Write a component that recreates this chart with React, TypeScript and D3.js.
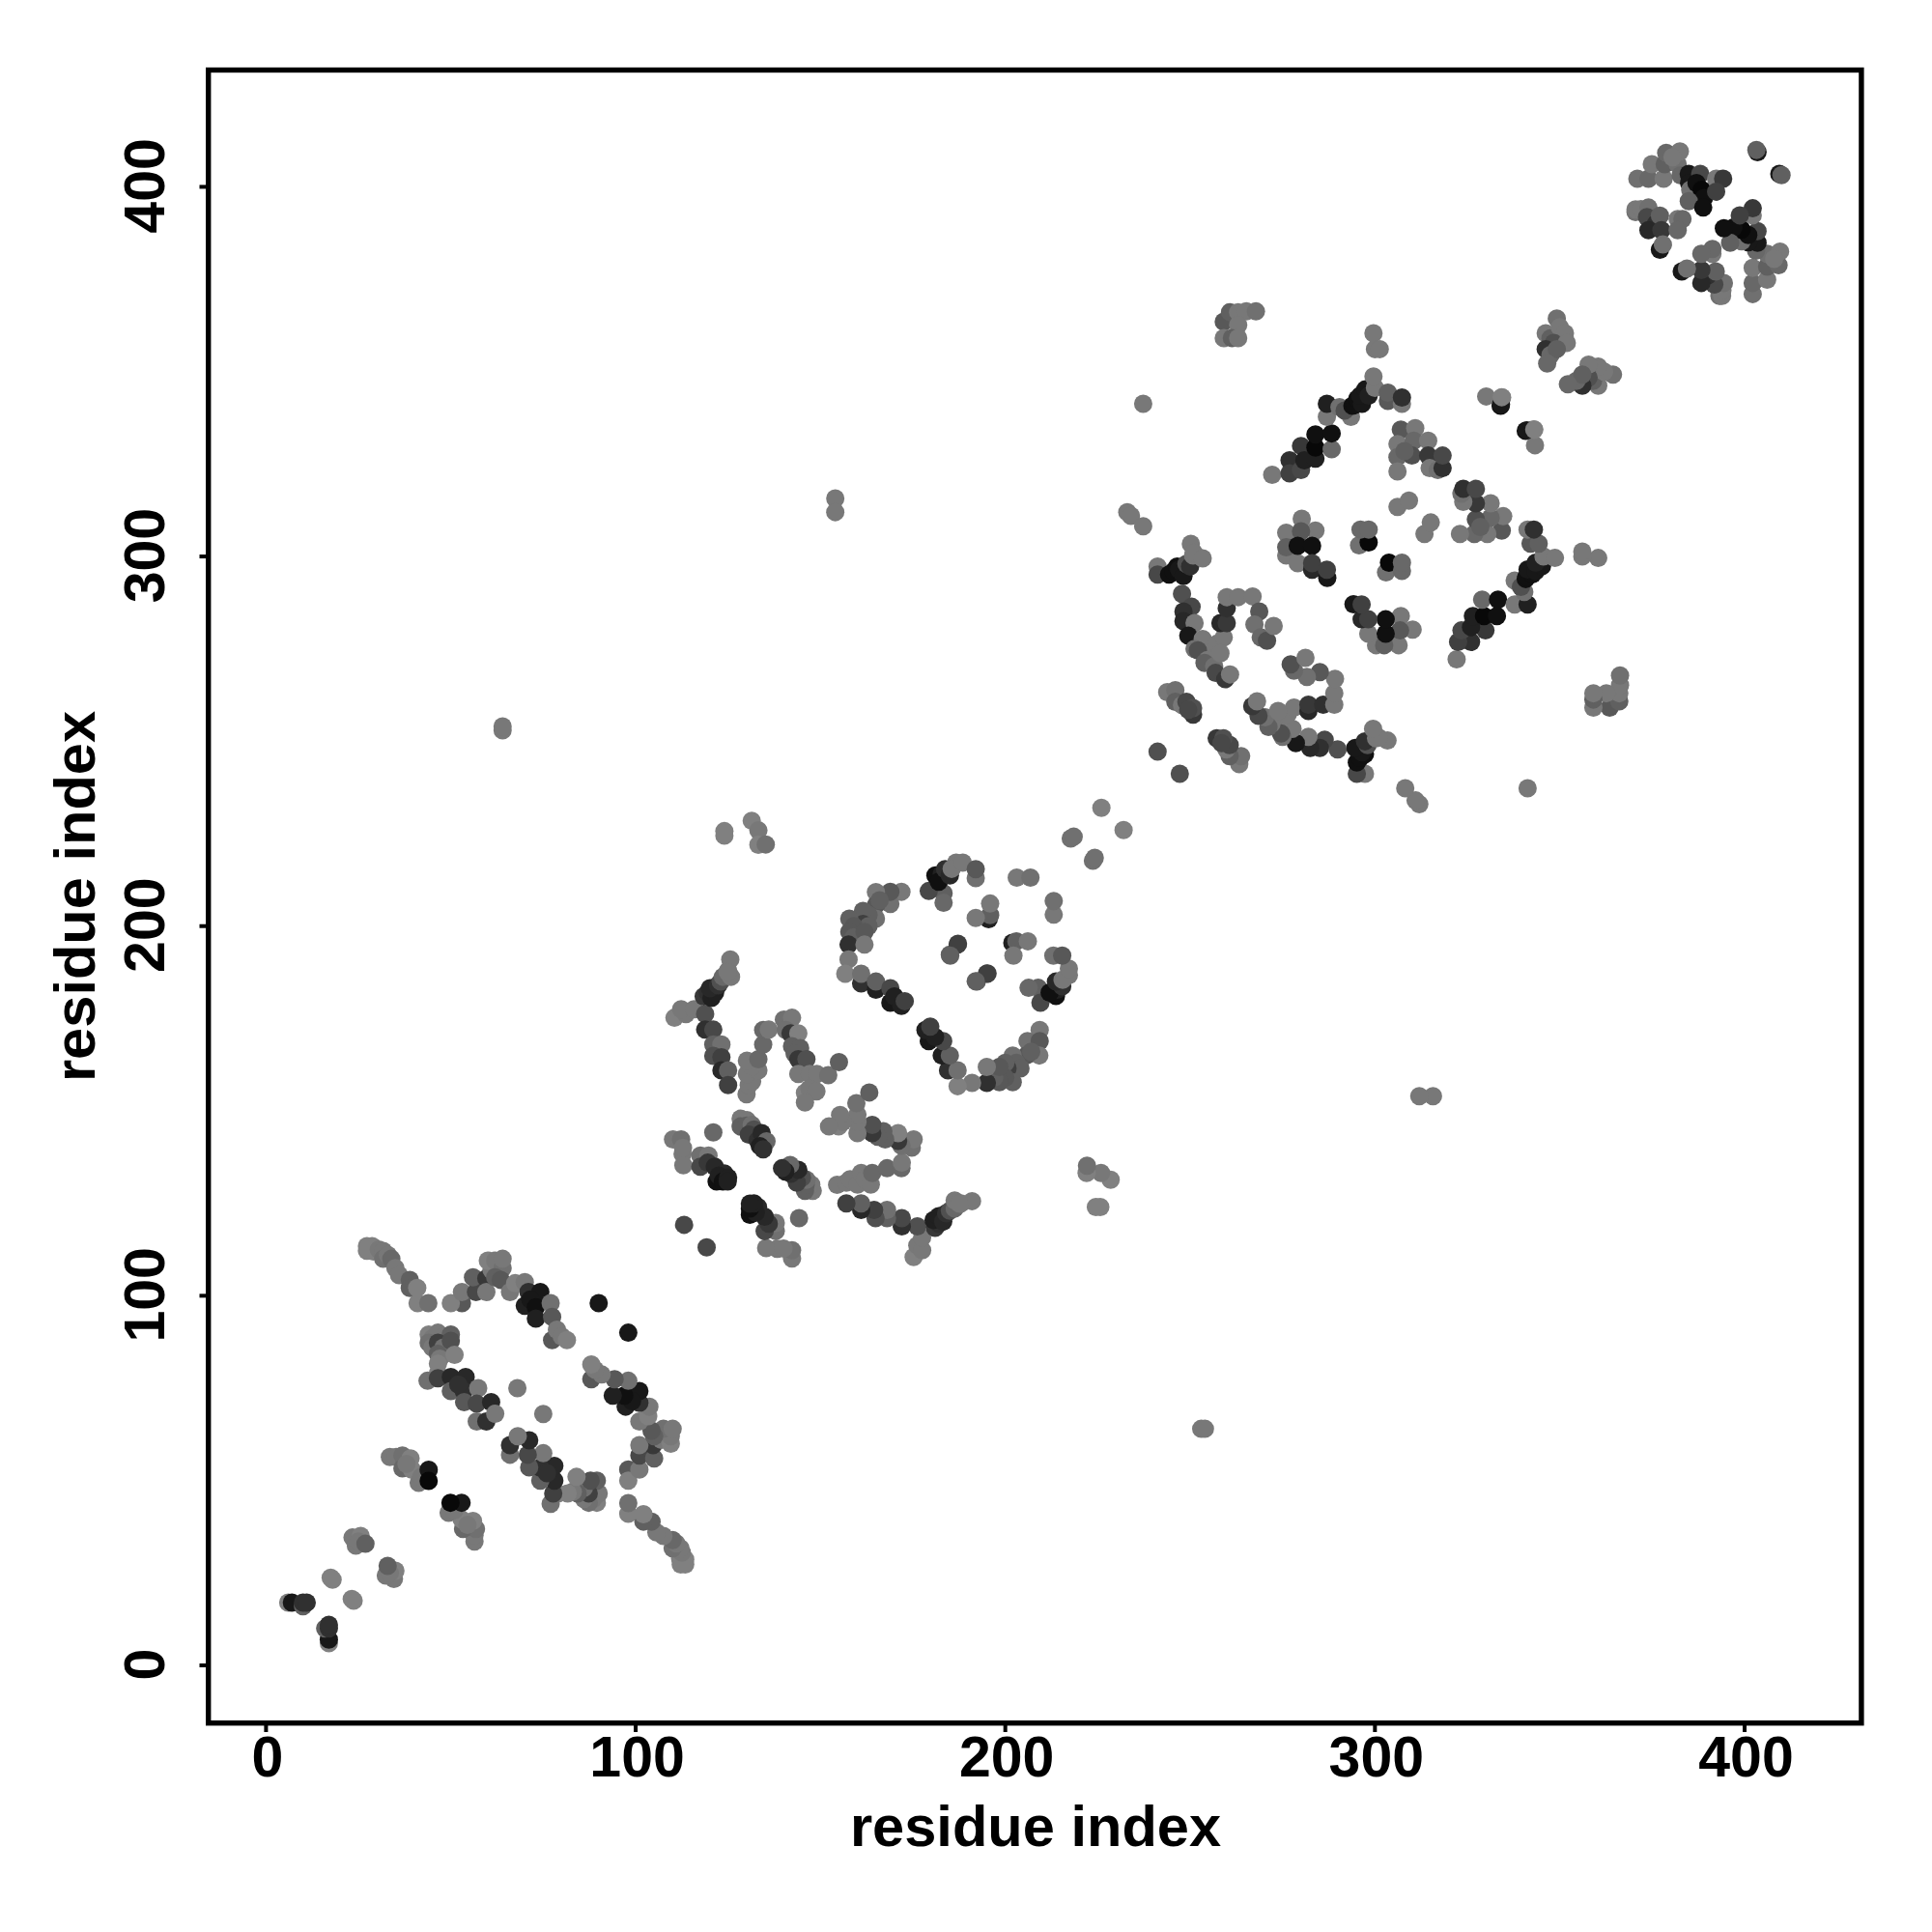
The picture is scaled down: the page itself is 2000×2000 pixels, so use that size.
import React from "react";
import * as d3 from "d3";

type Contact = [number, number, number];

const tickValues = [0, 100, 200, 300, 400];
const axisTitle = "residue index";

const startContacts: Contact[] = [
  [6,17,0x80],[7,17,0x18],[10,16,0x60],[10,17,0x30],[11,17,0x30],[17.5,23.7,0x80],[18,23.2,0x80],
  [23.4,34.6,0x78],[25.6,35,0x80],[24.3,32.4,0x78],[25,33.5,0x78],[26.9,32.9,0x60],
  [33.5,56.4,0x78],[35.2,56.4,0x78],[36.9,56.8,0x70],[39.1,56,0x80],[36.9,53.3,0x68],[39.5,52.9,0x80],[38,54.5,0x78],[41.3,49.4,0x78],[42,51,0x78],[44,52.9,0x18],[44,49.9,0x08],
];
const ringStrand: Contact[] = [
  [27.3,113.4,0x80],[27.3,112.2,0x80],[28.7,113.4,0x80],[29,112,0x80],[30.5,112.5,0x78],[31.7,112.1,0x78],[31.7,110,0x70],[33,111,0x78],[33.9,110,0x68],[35,107.5,0x78],[36,105.6,0x78],[38.9,104.3,0x60],[38.9,102.1,0x60],[40.9,102.1,0x80],[41,98,0x80],[43.9,98,0x70],
];
const ringUpper: Contact[] = [
  [53,98,0x58],[50,98,0x80],[53,101,0x78],[56.8,101,0x48],[56,105,0x60],[59.6,104.7,0x38],[59.6,101,0x78],[61,107,0x78],[60,109.5,0x80],[62,109.5,0x78],[64,107.5,0x70],[62,105,0x60],[63.5,104.3,0x58],[64,110,0x78],[66,101,0x78],[67.4,103.4,0x80],[70,103.7,0x78],
  [71,101,0x30],[74.2,101,0x18],[70,97.3,0x20],[71.5,99,0x18],[73,96.9,0x10],[73,93.8,0x20],[77,98,0x70],[77.4,94.3,0x58],[77.4,88,0x58],[78.7,90.8,0x78],[80,89,0x78],[81.4,88,0x80],[90,98,0x18],
];
const ringLeft: Contact[] = [
  [44,89.5,0x80],[45,88.5,0x78],[46.5,90,0x78],[48,89,0x78],[50,89.5,0x60],[44,87.3,0x70],[45,86,0x78],[46.5,87.3,0x40],[48,86,0x70],[50,87.8,0x50],[46.5,84.3,0x60],[47,83,0x78],[46.5,81.6,0x80],[51,84,0x80],[46.5,79,0x80],[43.7,77,0x70],[46.5,77.7,0x40],
  [50,78,0x28],[54,78,0x28],[50,74.2,0x60],[53.5,74.2,0x30],[52,76,0x30],[57.4,75,0x78],[53.6,71.2,0x58],[57,70.8,0x48],[60.9,71.2,0x28],[57,66,0x70],[59.6,66,0x30],[62,68.1,0x78],[68,75,0x78],
];
const strandA: Contact[] = [
  [110.5,175.2,0x80],[113.6,176.2,0x78],[112.3,177.5,0x78],[115.8,177.5,0x78],[118.8,176.2,0x50],[118.4,181,0x38],[119.5,182,0x30],[120.5,180.6,0x20],[121.5,182,0x20],[120.1,183.2,0x28],[122.3,184,0x30],[123,185,0x50],[123.6,186.3,0x68],[125.8,186.3,0x78],[125,188,0x78],[125.6,191,0x78],[124.9,187.6,0x78],
  [118.8,172,0x30],[121,172,0x48],[121,168,0x60],[123.2,168,0x70],[121,164.9,0x50],[123.2,164.5,0x40],[123.2,161,0x28],[125,161,0x60],[125,157,0x40],
  [130,154.5,0x78],[130.6,157,0x78],[131.5,158,0x78],[130.1,160,0x78],[133.2,161,0x78],[131.5,162,0x78],[130.1,163.6,0x78],[133.2,164,0x68],[134.5,168,0x68],[134.5,171.9,0x68],[136,172,0x78],
];
const strandB: Contact[] = [
  [140.1,174.7,0x70],[142.3,175.2,0x78],[140.6,171.9,0x70],[141.9,171,0x38],[144,171,0x80],[142.3,167.5,0x60],[144.5,167,0x60],[143,165.5,0x60],[144,164,0x38],[146.2,164,0x50],[144,160,0x78],[147.1,160,0x78],[149,160,0x78],[152.1,159.7,0x70],[155,163.2,0x60],[145.8,154.9,0x80],[147,156,0x78],[148.9,155.3,0x78],[145.8,152.3,0x78],
];
const strandC: Contact[] = [
  [128.4,147.9,0x78],[130.1,147.5,0x78],[128.4,145.8,0x60],[130,146,0x60],[131.4,146.2,0x70],[132,145,0x50],[130.6,143.6,0x40],[133,142,0x30],[134.1,144,0x28],[135.4,141.8,0x68],[133.6,140.5,0x20],[134.5,139.6,0x30],
  [110.1,142.3,0x78],[112.3,142.3,0x70],[121,144.2,0x68],[112.7,138.3,0x78],[112.9,135.3,0x78],[112.8,140,0x78],[117.5,137.9,0x70],[119.7,137.9,0x78],[117.5,134.9,0x48],[119.5,136,0x38],[121.4,134.9,0x28],[124,133.1,0x28],[121.9,130.9,0x10],[122.5,132.5,0x20],[123.6,130.9,0x10],[125,132,0x20],[124.9,130.9,0x20],[113.1,119.2,0x48],
];
const sheetTop: Contact[] = [
  [124,225.7,0x80],[124,224.5,0x80],[131.4,228.5,0x80],[133.2,225.9,0x78],[133.2,222,0x80],[135.2,222.1,0x70],[64,253,0x78],[64,254,0x78],[154,315.7,0x78],[154,312,0x78],
  [217.7,223.7,0x70],[218.5,224.2,0x70],[226,232,0x80],[237.3,341.3,0x78],[233,312,0x78],[234,311,0x78],[237.3,308.2,0x78],[241.2,247.2,0x50],
];
const cShape: Contact[] = [
  [171.9,209.3,0x78],[168.9,206,0x70],[168.9,209.3,0x58],[165,209.2,0x78],[165,205.7,0x58],[166,207,0x60],[165,202,0x70],[163,203,0x60],[161.5,204.1,0x60],[161.5,200.6,0x40],[163,200,0x60],[157.8,202,0x60],[159,200,0x58],[157.8,198.4,0x58],[159,197,0x60],[161.9,198.4,0x58],[157.6,195,0x30],[161.9,195,0x78],[157.6,191,0x78],[156.7,187.1,0x80],[161,184.5,0x30],[161,187.1,0x70],[165,182.8,0x20],[165,185,0x60],[168.9,179.3,0x18],[168.9,183.2,0x48],[170,181,0x20],[171.9,178.4,0x20],[172.8,179.7,0x40],
];
const cCenter: Contact[] = [
  [183.3,208.9,0x60],[183.3,206.3,0x68],[179.3,209.5,0x48],[181.1,213.7,0x10],[182.8,214.1,0x20],[182,212,0x10],[183.7,215.4,0x30],[185,213.7,0x28],[186.7,217.2,0x78],[185.5,215.5,0x78],[188.5,217.2,0x78],[192,213,0x70],[192,215.4,0x58],
  [195.5,201.9,0x20],[195.9,203,0x60],[195.9,206.1,0x78],[192,202.2,0x78],[187.2,195.2,0x40],[185,192.3,0x60],[195,187.1,0x40],[192,185.1,0x60],[203.1,213.1,0x78],[206.8,213.1,0x70],
];
const diamondTop: Contact[] = [
  [259.1,363.5,0x58],[260.8,366.1,0x60],[263,366.1,0x78],[265.2,366.3,0x78],[267.8,366.3,0x70],[263,362.6,0x78],[259.1,359.1,0x78],[261.3,359.1,0x60],[263,359.1,0x78],[299.6,360.4,0x78],[300,356.1,0x78],[301.3,356.1,0x78],
  [349.2,364.4,0x70],[346.2,360.4,0x78],[347.5,359,0x60],[350,362,0x78],[351.4,360.4,0x78],[348.4,357.8,0x50],[351.9,357.8,0x78],[346.2,356.1,0x30],[347.5,354.5,0x68],[349.2,356.1,0x60],[346.6,352.2,0x68],
  [334,340.8,0x10],[330.1,343.3,0x78],[334.4,343,0x80],[341.1,334.1,0x18],[343.1,334.3,0x80],
];
const diamondEdge: Contact[] = [
  [272.2,322.1,0x78],[276.9,326,0x30],[276.9,322.5,0x40],[280,323.4,0x48],[280,329.9,0x38],[280.9,326,0x20],[283.9,326.5,0x20],[283.9,329.5,0x08],[283.9,333,0x10],[288.3,329,0x68],[288.3,333.3,0x10],[287,337.8,0x78],[287,341.3,0x20],[293.5,337.8,0x78],[290.4,340.4,0x70],[291.8,339.5,0x50],[293.9,340.8,0x10],[294.5,341,0x10],[295.2,342.6,0x10],[296.5,341.3,0x18],[296,343.5,0x18],[297.4,345.2,0x18],[298.3,343.5,0x20],[300,345.6,0x78],[299.6,348.7,0x78],[303.5,342.1,0x58],[303.5,344.3,0x60],[307.3,341.3,0x78],[307.3,343,0x30],
  [307,334.3,0x58],[310.9,334.7,0x78],[306.1,330.4,0x78],[310.5,331.3,0x68],[314.4,331.3,0x78],[306.1,326.9,0x68],[310,327.3,0x50],[308,328.5,0x60],[306.1,323,0x78],[314.4,327.3,0x38],[314.8,323.9,0x78],[317,323.4,0x70],[318.3,323.9,0x30],[318.3,327.3,0x48],[306.1,313.4,0x78],[309.2,315.1,0x78],
];
const diamondCenter: Contact[] = [
  [276,306.4,0x78],[280.2,310.2,0x78],[283.9,307,0x78],[280,306.8,0x58],[276,300.3,0x78],[279.1,298.2,0x78],[276,302.5,0x60],[279.1,302.9,0x10],[283,302.9,0x10],[283,296.4,0x28],[283,298.2,0x40],[287.1,294.2,0x18],[287,296.4,0x40],
  [295.7,303,0x70],[298.3,303.8,0x08],[296.1,307.3,0x68],[298.3,307.3,0x68],
];
const hairpinLeft: Contact[] = [
  [250.2,303.4,0x78],[241.2,297.3,0x78],[241.2,295.1,0x48],[244.3,295.1,0x10],[245.5,296,0x10],[246.5,297.3,0x10],[247,296.5,0x18],[248.2,294.7,0x18],[249,298,0x50],[250,297.3,0x30],[250.8,300.3,0x78],[251,301,0x78],[253.4,299.5,0x78],[247.8,289.9,0x50],[250.4,286.4,0x48],[248.2,285.1,0x30],[248.2,282.5,0x28],[251.2,282,0x78],[249.5,278.6,0x18],[253.4,277.7,0x78],[251.2,275,0x70],[253.9,273.8,0x78],[257.3,276.4,0x78],[259.1,278.1,0x78],[258.2,282,0x28],[259.9,282,0x38],[259.9,286,0x30],[259.9,289,0x78],[263,289,0x78],[266.9,289.2,0x78],[268.7,285.1,0x58],[267.4,281.6,0x70],[269.1,278.1,0x68],[270.8,277.2,0x50],[272.6,281.2,0x78],
  [252.1,274.6,0x50],[254.7,272,0x78],[253.9,271.2,0x60],[256.5,270.3,0x70],[258.2,273.8,0x78],[256.9,268.5,0x48],[259.5,266.8,0x38],[260.8,268.1,0x78],
  [243.8,263.3,0x78],[246,263.8,0x70],[246,260.7,0x60],[247.8,259.8,0x78],[249,260.7,0x48],[250.8,257.2,0x38],[250.8,259,0x50],[249.5,258.5,0x48],
];
const endContacts: Contact[] = [
  [371,402.2,0x70],[374,402.2,0x68],[378.1,402.2,0x78],[374.9,406.1,0x78],[378.4,406.1,0x60],[378.8,409.2,0x68],[381.9,406.1,0x70],[382.5,409.6,0x78],[380.5,408,0x78],[382.7,403.1,0x68],
  [384.9,403.5,0x18],[385,401,0x18],[388,403.5,0x48],[392.3,402.2,0x78],[394.2,402.2,0x38],[385.3,399.2,0x70],[387,401,0x10],[388.4,399.2,0x08],[389,397,0x10],[392.3,398.7,0x40],[384.9,396.1,0x60],[388.8,394.4,0x10],[403.5,409.4,0x18],[403.2,410,0x60],
  [370.5,393.2,0x70],[370.5,393.9,0x78],[372,394,0x78],[374,394.4,0x70],[373.6,391.8,0x48],[376,390,0x30],[377.1,392.2,0x60],[374,388.3,0x28],[377.5,388.3,0x38],[381.9,391.3,0x78],[383.2,391.3,0x68],[381.9,388.3,0x68],[377.1,383,0x18],[377.9,384.4,0x70],
];

const contacts: Contact[] = [
  ...startContacts, ...ringStrand, ...ringUpper, ...ringLeft, ...strandA, ...strandB, ...strandC, ...sheetTop,
  ...cShape, ...cCenter, ...diamondTop, ...diamondEdge, ...diamondCenter, ...hairpinLeft, ...endContacts,
];

const WIDTH = 2000;
const HEIGHT = 2000;
const fontFamily = "'Liberation Sans', Arial, sans-serif";

export default function App() {
  const x = d3.scaleLinear().domain([-15.6, 431.6]).range([215.7, 1926.9]);
  const y = d3.scaleLinear().domain([-15.6, 431.6]).range([1783.7, 72.5]);
  const points = contacts.flatMap(([i, j, s]) => [
    { px: i, py: j, s },
    { px: j, py: i, s },
  ]);
  return (
    <svg
      width={WIDTH}
      height={HEIGHT}
      viewBox={`0 0 ${WIDTH} ${HEIGHT}`}
      style={{ position: "absolute", left: 0, top: 0, background: "#fff" }}
    >
      <g>
        {points.map((p, k) => (
          <circle key={k} cx={x(p.px)} cy={y(p.py)} r={9.5} fill={d3.rgb(p.s, p.s, p.s).formatHex()} />
        ))}
      </g>
      <rect x={x.range()[0]} y={y.range()[1]} width={x.range()[1] - x.range()[0]} height={y.range()[0] - y.range()[1]} fill="none" stroke="#000" strokeWidth={5.4} />
      {tickValues.map((t) => (
        <g key={`x${t}`}>
          <line x1={x(t)} x2={x(t)} y1={1783.7} y2={1793} stroke="#000" strokeWidth={4} />
          <text x={x(t) + 1.5} y={1839} textAnchor="middle" fontFamily={fontFamily} fontWeight="bold" fontSize={59}>{t}</text>
        </g>
      ))}
      {tickValues.map((t) => (
        <g key={`y${t}`}>
          <line x1={215.7} x2={206.5} y1={y(t)} y2={y(t)} stroke="#000" strokeWidth={4} />
          <text transform={`translate(169.5,${y(t) - 1}) rotate(-90)`} textAnchor="middle" fontFamily={fontFamily} fontWeight="bold" fontSize={59}>{t}</text>
        </g>
      ))}
      <text x={1072} y={1911} textAnchor="middle" fontFamily={fontFamily} fontWeight="bold" fontSize={59.6}>{axisTitle}</text>
      <text transform="translate(98,928) rotate(-90)" textAnchor="middle" fontFamily={fontFamily} fontWeight="bold" fontSize={59.6}>{axisTitle}</text>
    </svg>
  );
}
